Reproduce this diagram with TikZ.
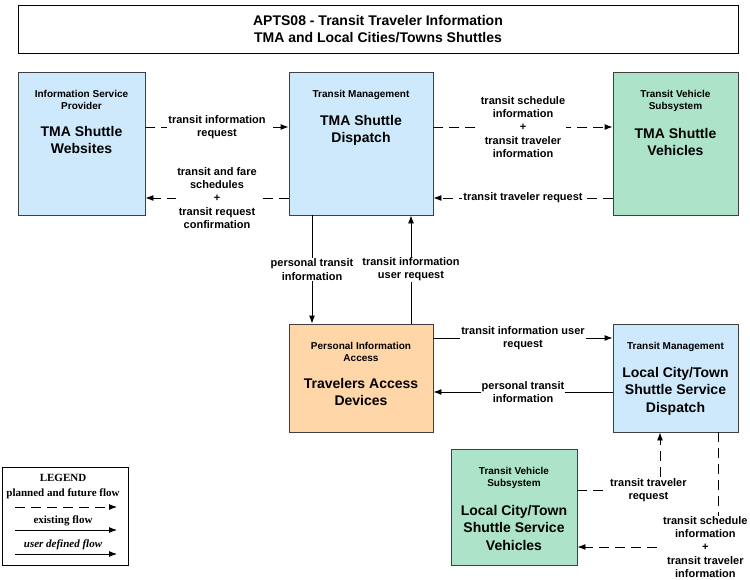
\documentclass[tikz,border=0pt]{standalone}
\usepackage{fontspec}
\setmainfont{Liberation Sans}
\newfontfamily\legendfont{Liberation Serif}
\usepackage{xcolor}
\usepackage{tikz}
\usetikzlibrary{arrows.meta, positioning}

\definecolor{tmablue}{HTML}{CDE9FB}
\definecolor{vehgreen}{HTML}{ADE3C8}
\definecolor{paorange}{HTML}{FFD6A8}
\definecolor{boxline}{HTML}{404040}

\begin{document}
\begin{tikzpicture}[
    x=1pt, y=-1pt,
    sysbox/.style={draw=boxline, line width=0.9pt, minimum width=144pt, minimum height=143pt, inner sep=0pt},
    hdr/.style={font=\fontsize{10}{12}\selectfont\bfseries, align=center, inner sep=0pt, anchor=north},
    bigname/.style={font=\fontsize{14}{17.5}\selectfont\bfseries, align=center, inner sep=0pt, anchor=north},
    lbl/.style={font=\fontsize{11}{13.2}\selectfont\bfseries, align=center, fill=white, inner sep=1pt},
    flow/.style={-{Latex[length=8pt,width=6pt]}, line width=0.9pt},
    plan/.style={flow, dash pattern=on 10pt off 6pt},
    lgd/.style={font=\legendfont\fontsize{11}{13}\selectfont\bfseries, inner sep=0pt},
]
\useasboundingbox (0,0) rectangle (750,579);

% title
\node[draw, line width=0.9pt, minimum width=720pt, minimum height=48pt, align=center,
      font=\fontsize{14}{17}\selectfont\bfseries] (title) at (378,29)
      {APTS08 - Transit Traveler Information\\TMA and Local Cities/Towns Shuttles};

% TMA row
\node[sysbox, fill=tmablue, minimum width=127pt] (isp) at (81.5,143.5) {};
\node[hdr, below=18.5pt of isp.north] (isph) {Information Service\\Provider};
\node[bigname, below=16pt of isph] (ispn) {TMA Shuttle\\Websites};

\node[sysbox, fill=tmablue] (tmad) at (361,143.5) {};
\node[hdr, below=18.5pt of tmad.north] (tmadh) {Transit Management};
\node[bigname, below=15pt of tmadh] (tmadn) {TMA Shuttle\\Dispatch};

\node[sysbox, fill=vehgreen, minimum width=125pt] (tmav) at (675.5,143.5) {};
\node[hdr, below=18.5pt of tmav.north] (tmavh) {Transit Vehicle\\Subsystem};
\node[bigname, below=16pt of tmavh] (tmavn) {TMA Shuttle\\Vehicles};

% local row
\node[sysbox, fill=paorange, minimum height=108pt] (tad) at (361,378) {};
\node[hdr, below=18.5pt of tad.north] (tadh) {Personal Information\\Access};
\node[bigname, below=16pt of tadh] (tadn) {Travelers Access\\Devices};

\node[sysbox, fill=tmablue, minimum width=125pt, minimum height=108pt] (lcd) at (675.5,378) {};
\node[hdr, below=18.5pt of lcd.north] (lcdh) {Transit Management};
\node[bigname, below=15pt of lcdh] (lcdn) {Local City/Town\\Shuttle Service\\Dispatch};

\node[sysbox, fill=vehgreen, minimum width=126pt, minimum height=116pt] (lveh) at (514,507) {};
\node[hdr, below=18.5pt of lveh.north] (lvehh) {Transit Vehicle\\Subsystem};
\node[bigname, below=16pt of lvehh] (lvehn) {Local City/Town\\Shuttle Service\\Vehicles};

% flows
\draw[plan] ([yshift=16.5pt]isp.east) -- node[lbl] (f1) {transit information\\request} ([yshift=16.5pt]tmad.west);
\draw[plan] ([yshift=-54.5pt]tmad.west) -- node[lbl] (f2) {transit and fare\\schedules\\+\\transit request\\confirmation} ([yshift=-54.5pt]isp.east);
\draw[plan] ([yshift=16.5pt]tmad.east) -- node[lbl] (f3) {transit schedule\\information\\+\\transit traveler\\information} ([yshift=16.5pt]tmav.west);
\draw[plan] ([yshift=-54.5pt]tmav.west) -- node[lbl] (f4) {transit traveler request} ([yshift=-54.5pt]tmad.east);

\draw[flow] ([xshift=-49pt]tmad.south) -- node[lbl] (f5) {personal transit\\information} ([xshift=-49pt]tad.north);
\draw[flow] ([xshift=50pt]tad.north) -- node[lbl] (f6) {transit information\\user request} ([xshift=50pt]tmad.south);

\draw[flow] ([yshift=40pt]tad.east) -- node[lbl] (f7) {transit information user\\request} ([yshift=40pt]lcd.west);
\draw[flow] ([yshift=-14pt]lcd.west) -- node[lbl] (f8) {personal transit\\information} ([yshift=-14pt]tad.east);

\draw[plan] ([yshift=17pt]lveh.east) -| node[lbl, pos=0.43] (f9) {transit traveler\\request} ([xshift=-15.5pt]lcd.south);
\draw[plan] ([xshift=42.5pt]lcd.south) |- node[lbl, pos=0.545] (f10) {transit schedule\\information\\+\\transit traveler\\information} ([yshift=-40pt]lveh.east);

% legend
\node[draw, line width=0.9pt, minimum width=126pt, minimum height=98pt] (legend) at (65,516) {};
\node[lgd] (lgdt) at (63,478) {LEGEND};
\node[lgd] (lgdp) at (63,494) {planned and future flow};
\node[lgd] (lgde) at (63,521) {existing flow};
\node[lgd, font=\legendfont\fontsize{11}{13}\selectfont\bfseries\itshape] (lgdu) at (63,545) {user defined flow};
\coordinate (p1) at (15,507);
\coordinate (p2) at (117,507);
\coordinate (e1) at (15,530);
\coordinate (e2) at (117,530);
\coordinate (u1) at (15,554);
\coordinate (u2) at (117,554);
\draw[plan] (p1) -- (p2);
\draw[flow] (e1) -- (e2);
\draw[flow] (u1) -- (u2);
\end{tikzpicture}
\end{document}
